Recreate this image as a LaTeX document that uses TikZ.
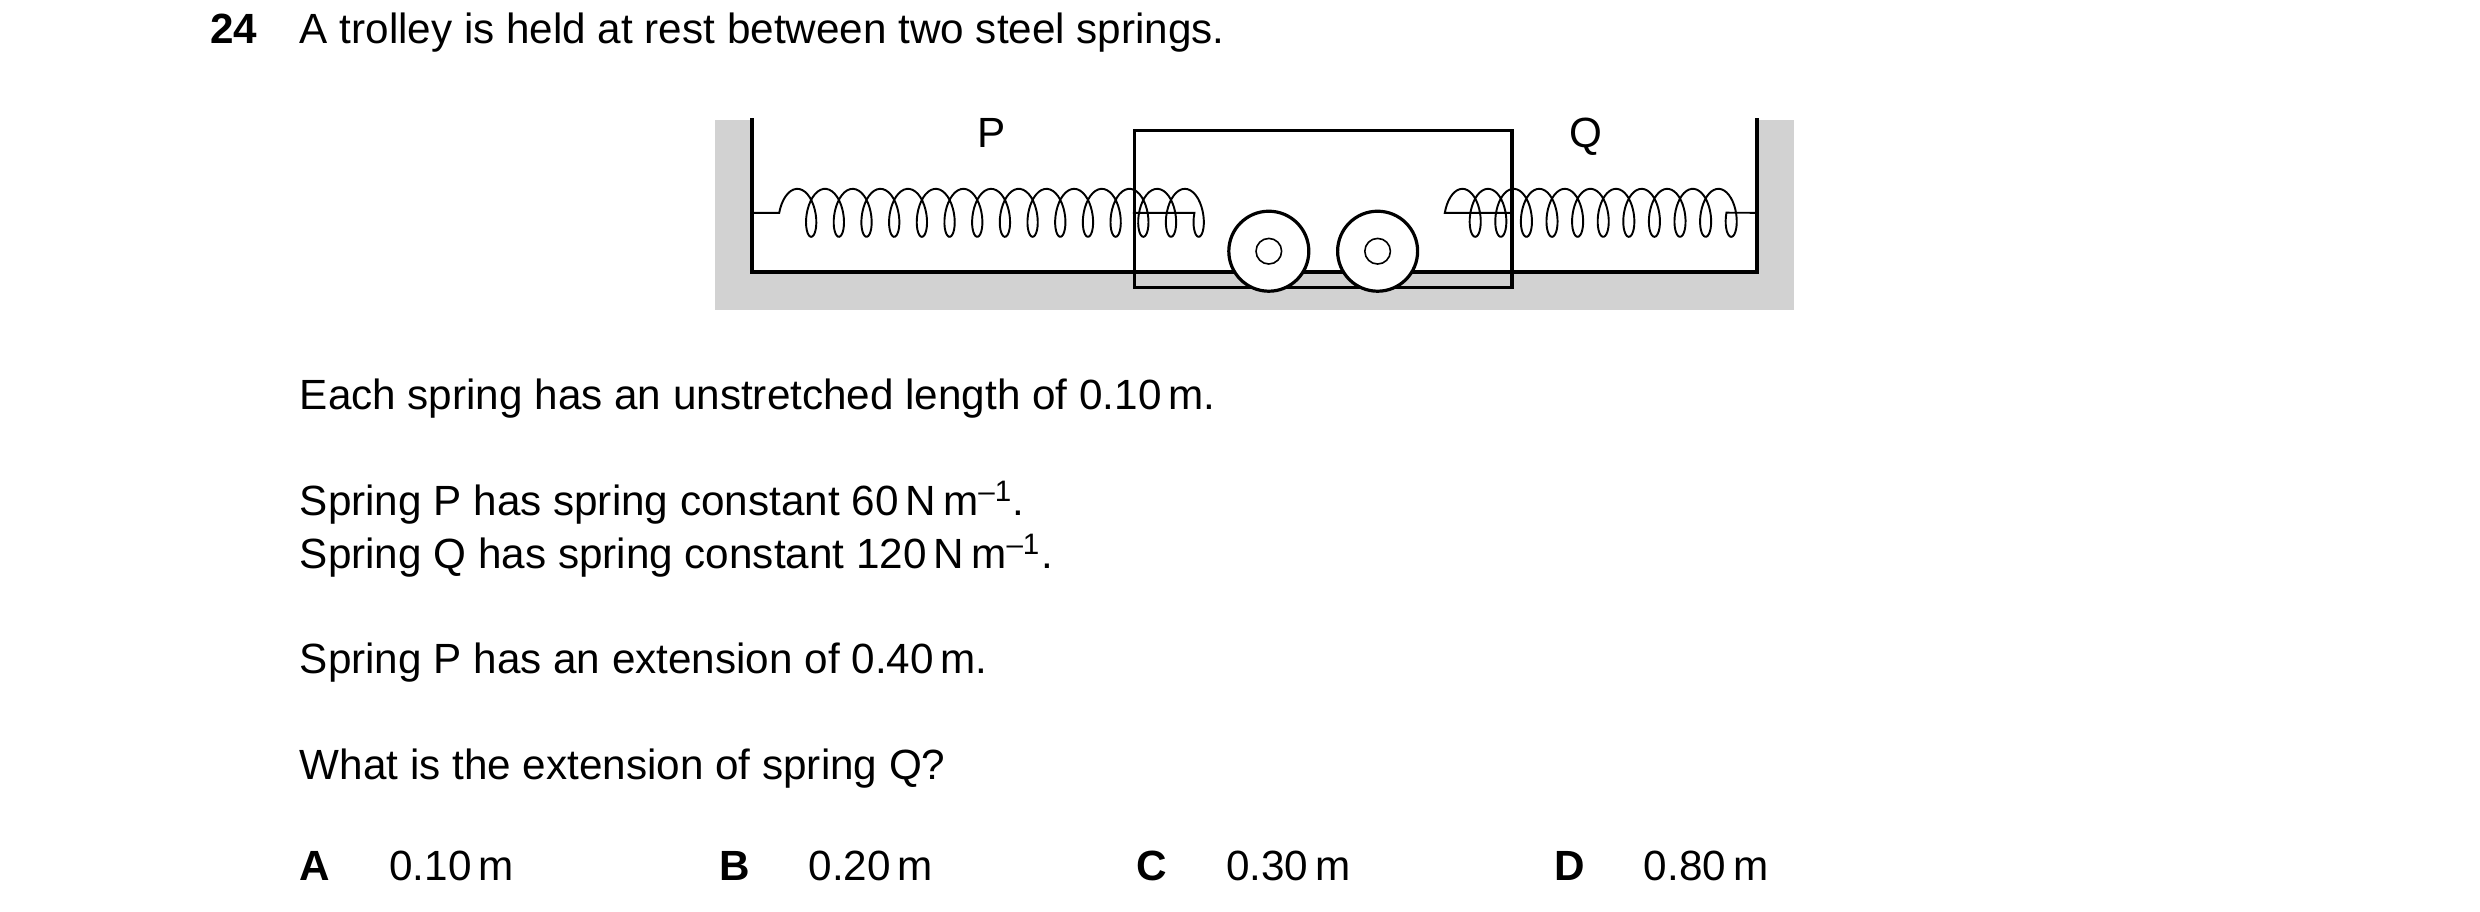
\documentclass[tikz,border=0pt]{standalone}
\usepackage{fontspec}
\setmainfont{Liberation Sans}
\begin{document}
\begin{tikzpicture}[x=0.5pt,y=-0.5pt,
  txt/.style={anchor=base west,inner sep=0pt,font=\fontsize{13.2pt}{15pt}\selectfont},
  wall/.style={line width=1.2pt,line cap=rect},
  spr/.style={line width=0.6pt}]
\useasboundingbox (0,0) rectangle (1550,569.4);
% gray base
\fill[gray!35] (447,75) rectangle (1121,194);
\fill[white] (470,75) rectangle (1098,170);
\draw[wall] (470,75) -- (470,170) -- (1098,170) -- (1098,75);
% trolley
\node[draw,line width=1pt,minimum width=118,minimum height=49,inner sep=0pt] (box) at (827,130.5) {};
\node[draw,fill=white,circle,line width=1pt,minimum size=25,inner sep=0pt] (w1) at (793,157) {};
\node[draw,fill=white,circle,line width=1pt,minimum size=25,inner sep=0pt] (w2) at (861,157) {};
\node[draw,circle,line width=0.5pt,minimum size=8,inner sep=0pt] (h1) at (w1) {};
\node[draw,circle,line width=0.5pt,minimum size=8,inner sep=0pt] (h2) at (w2) {};
% springs
\coordinate (pL) at (470,133);
\coordinate (qR) at (1098,133);
\draw[spr] (pL) -- (487,133) -- plot[domain=0:94.25,samples=500,variable=\t] ({487+17.3*\t/6.2832+7*(1-cos(\t r))},{133-15*sin(\t r)}) -- (box.west |- 0,133);
\draw[spr] (box.east |- 0,133) -- (903,133) -- plot[domain=0:69.12,samples=400,variable=\t] ({903+16*\t/6.2832+7*(1-cos(\t r))},{133-15*sin(\t r)}) -- (qR);
\node[txt,anchor=base] (P) at (620,92) {P};
\node[txt,anchor=base] (Q) at (991,92) {Q};
% texts
\node[txt] (n) at (131,27) {\textbf{24}};
\node[txt] (t0) at (187,27) {A trolley is held at rest between two steel springs.};
\node[txt] (t1) at (187,256) {Each spring has an unstretched length of 0.10\,m.};
\node[txt] (t2) at (187,322) {Spring P has spring constant 60\,N\,m\textsuperscript{–1}.};
\node[txt] (t3) at (187,355) {Spring Q has spring constant 120\,N\,m\textsuperscript{–1}.};
\node[txt] (t4) at (187,421) {Spring P has an extension of 0.40\,m.};
\node[txt] (t5) at (187,487) {What is the extension of spring Q?};
\node[txt] (a) at (187,550) {\textbf{A}}; \node[txt] (av) at (243,550) {0.10\,m};
\node[txt] (b) at (449,550) {\textbf{B}}; \node[txt] (bv) at (505,550) {0.20\,m};
\node[txt] (c) at (710,550) {\textbf{C}}; \node[txt] (cv) at (766,550) {0.30\,m};
\node[txt] (d) at (971,550) {\textbf{D}}; \node[txt] (dv) at (1027,550) {0.80\,m};
\end{tikzpicture}
\end{document}
